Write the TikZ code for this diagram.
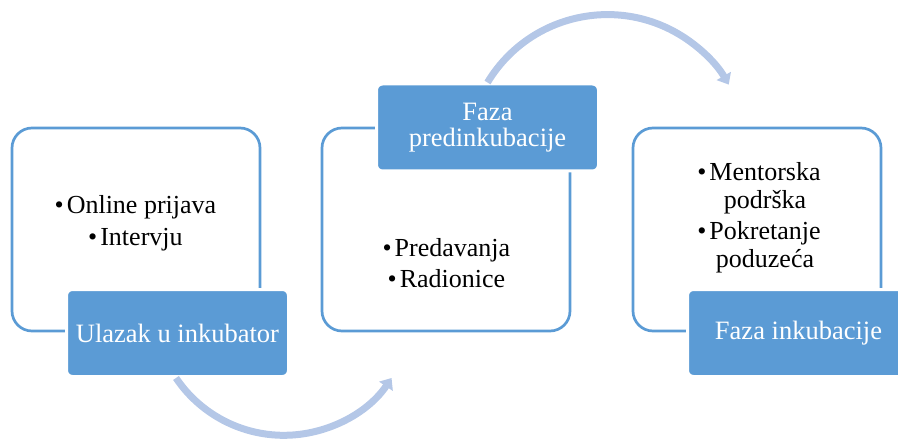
\documentclass[tikz,border=0pt]{standalone}
\usepackage{fontspec}
\setmainfont{Liberation Serif}
\usetikzlibrary{arrows.meta}

\definecolor{boxblue}{HTML}{5B9BD5}
\definecolor{flowblue}{HTML}{B4C7E7}
\newcommand{\bul}{\llap{\textbullet\hspace{3pt}}}

\begin{document}
\begin{tikzpicture}[x=1pt, y=-1pt,
    phase/.style={rectangle, draw=boxblue, line width=2.7pt, rounded corners=20pt,
        minimum width=248pt, minimum height=203pt},
    tag/.style={rectangle, draw=white, line width=3pt, fill=boxblue, rounded corners=6pt,
        minimum width=222pt, minimum height=87pt, text=white, align=center,
        font=\fontsize{26.5}{26.5}\selectfont},
    items/.style={align=center, inner sep=0pt, font=\fontsize{26}{28}\selectfont},
    flow/.style={draw=flowblue, line width=7pt, -{Triangle[length=10pt,width=16pt]}}]

    \useasboundingbox (0,0) rectangle (898,441);

    \node[phase] (P1) at (136,229.5) {};
    \node[phase] (P2) at (446,229.5) {};
    \node[phase] (P3) at (757,229.5) {};

    \node[items] (T1) at (141.5,223) {\bul Online prijava\\[4pt]\bul Intervju};
    \node[items] (T2) at (452.5,263.5) {\bul Predavanja\\[3pt]\bul Radionice};
    \node[items] (T3) at (765,218) {\bul Mentorska\\podrška\\[3pt]\bul Pokretanje\\poduzeća};

    \node[tag] (L1) at (177.5,333) {Ulazak u inkubator};
    \node[tag] (L2) at (487.5,127.5) {Faza\\predinkubacije};
    \node[tag] (L3) at (798.5,333) {Faza inkubacije};

    \draw[flow] ([xshift=-1.5pt]L1.south) arc[start angle=214, end angle=326, radius=130pt];
    \draw[flow] (L2.north) arc[start angle=149, end angle=30, radius=140pt];
\end{tikzpicture}
\end{document}
